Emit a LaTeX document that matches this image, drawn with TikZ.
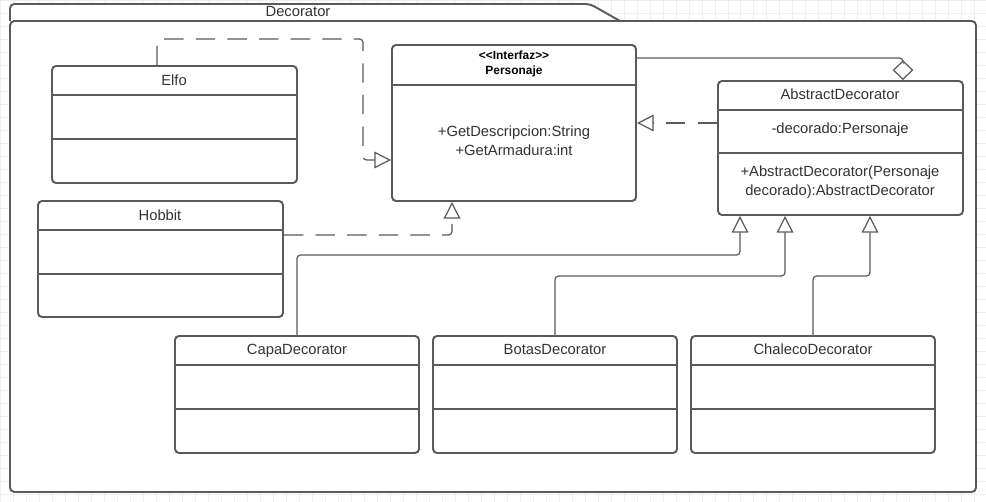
\documentclass[tikz,border=0pt]{standalone}
\usepackage{fontspec}
\setmainfont{Liberation Sans}
\usetikzlibrary{arrows.meta, fit, positioning}

\definecolor{umlline}{HTML}{5A5A5A}
\definecolor{umltext}{HTML}{333333}
\definecolor{gridgray}{HTML}{EFEFEF}

\tikzset{
  classbox/.style={draw=umlline, line width=1.1pt, rounded corners=2.3pt, inner sep=0pt, fill=white},
  sepline/.style={draw=umlline, line width=1.1pt},
  title/.style={text=umltext, font=\fontsize{8.4}{10.8}\selectfont, align=center, inner sep=0pt},
  stereo/.style={text=black, font=\fontsize{6.8}{8.8}\selectfont\bfseries, align=center, inner sep=0pt},
  conn/.style={draw=umlline, line width=0.7pt, rounded corners=2pt},
  dashconn/.style={conn, dash pattern=on 11pt off 7pt},
  gen/.style={-{Triangle[open, length=9.5pt, width=9.5pt, line width=0.7pt]}},
  aggr/.style={-{Diamond[open, length=11.3pt, width=11.8pt, line width=0.7pt]}},
}

\begin{document}
\begin{tikzpicture}[x=0.02cm, y=-0.02cm]
  \useasboundingbox (0,0) rectangle (986,502);
  \draw[gridgray, line width=0.4pt, step=0.26cm] (0,0) grid (986,502);

  % package
  \draw[umlline, line width=1.1pt, fill=white, rounded corners=2.5pt] (10,21) -- (10,4) -- (590,4) -- (620,21);
  \draw[umlline, line width=1.1pt, fill=white, rounded corners=2.5pt] (10,21) rectangle (976,492);
  \node[title] (pkgname) at (298,12) {Decorator};

  % interface
  \node[classbox, fit={(392,45) (636,201)}] (personaje) {};
  \draw[sepline] (392,85) -- (636,85);
  \node[stereo] (personajename) at (514,64) {{<}{<}Interfaz{>}{>}\\Personaje};
  \node[title] (personajeops) at (514,141) {+GetDescripcion:String\\+GetArmadura:int};

  % concrete characters
  \node[classbox, fit={(52,66) (297,183)}] (elfo) {};
  \draw[sepline] (52,95) -- (297,95);
  \draw[sepline] (52,139) -- (297,139);
  \node[title] (elfoname) at (174,80) {Elfo};

  \node[classbox, fit={(38,201) (283,317)}] (hobbit) {};
  \draw[sepline] (38,230) -- (283,230);
  \draw[sepline] (38,274) -- (283,274);
  \node[title] (hobbitname) at (160,215) {Hobbit};

  % abstract decorator
  \node[classbox, fit={(718,81) (963,215)}] (absdec) {};
  \draw[sepline] (718,110) -- (963,110);
  \draw[sepline] (718,153) -- (963,153);
  \node[title] (absdecname) at (840,94) {AbstractDecorator};
  \node[title] (absdecattr) at (840,130) {-decorado:Personaje};
  \node[title] (absdecops) at (840,182) {+AbstractDecorator(Personaje\\decorado):AbstractDecorator};

  % decorators
  \foreach \n/\x/\t in {capa/175/CapaDecorator, botas/433/BotasDecorator, chaleco/691/ChalecoDecorator}{
    \node[classbox, fit={(\x,336) (\x+244,453)}] (\n) {};
    \draw[sepline] (\x,365) -- (\x+244,365);
    \draw[sepline] (\x,409) -- (\x+244,409);
    \node[title, anchor=base] (\n name) at (\x+122,355) {\t};
  }

  % connectors
  \coordinate (elfoknee) at (157,39);
  \coordinate (elfodrop) at (363,160);
  \draw[dashconn, gen] (elfoknee |- elfo.north) -- (elfoknee) -| (elfodrop) -- (elfodrop -| personaje.west);

  \coordinate (hobbitknee) at (452,235);
  \draw[dashconn, gen] (hobbitknee -| hobbit.east) -- (hobbitknee) -- (hobbitknee |- personaje.south);

  \coordinate (realiz) at (700,123);
  \draw[dashconn, gen] (realiz -| absdec.west) -- (realiz -| personaje.east);

  \coordinate (aggrknee) at (903,58);
  \draw[conn, aggr] (aggrknee -| personaje.east) -- (aggrknee) -- (aggrknee |- absdec.north);

  \coordinate (capaknee) at (740,255);
  \coordinate (botasknee) at (785,276);
  \coordinate (chalecoknee) at (870,276);
  \draw[conn, gen] (capa.north) |- (capaknee) -- (capaknee |- absdec.south);
  \draw[conn, gen] (botas.north) |- (botasknee) -- (botasknee |- absdec.south);
  \draw[conn, gen] (chaleco.north) |- (chalecoknee) -- (chalecoknee |- absdec.south);
\end{tikzpicture}
\end{document}
